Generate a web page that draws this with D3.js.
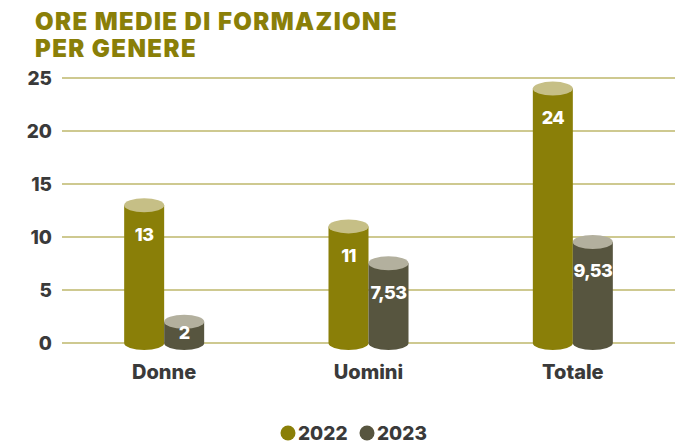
<!DOCTYPE html>
<html>
<head>
<meta charset="utf-8">
<script src="https://cdn.jsdelivr.net/npm/d3@7"></script>
<style>
  body { margin: 0; background: #fff; }
  text { font-family: Inter, "Open Sans", sans-serif; }
</style>
</head>
<body>
<svg id="chart" width="690" height="445"></svg>
<script>
// Ore medie di formazione per genere

const categories = ['Donne', 'Uomini', 'Totale'];
const years = ['2022', '2023'];
const values2022 = [13, 11, 24];
const values2023 = [2, 7.53, 9.53];
const yTicks = [0, 5, 10, 15, 20, 25];
const titleLines = ['ORE MEDIE DI FORMAZIONE', 'PER GENERE'];

const bodyColor = { '2022': '#8a7f08', '2023': '#57553f' };
const topColor = { '2022': '#c6bf86', '2023': '#b3b09e' };

const svg = d3.select('#chart');

// title, two lines
svg.append('g').selectAll('text')
  .data(titleLines)
  .join('text')
    .attr('x', 35)
    .attr('y', (d, i) => 30 + i * 27)
    .attr('fill', '#8a7f08')
    .attr('font-size', 24)
    .attr('font-weight', 900)
    .attr('letter-spacing', 1.4)
    .text(d => d);

const x = d3.scaleBand()
  .domain(categories)
  .range([62, 675]);

const y = d3.scaleLinear()
  .domain([0, 25])
  .range([343, 78]);

// gridlines + tick labels
const axis = svg.append('g');
axis.selectAll('line')
  .data(yTicks)
  .join('line')
    .attr('x1', 62).attr('x2', 675)
    .attr('y1', d => y(d)).attr('y2', d => y(d))
    .attr('stroke', '#9d9423')
    .attr('stroke-width', 1.2);

axis.selectAll('text')
  .data(yTicks)
  .join('text')
    .attr('x', 52)
    .attr('y', d => y(d))
    .attr('dy', '0.36em')
    .attr('text-anchor', 'end')
    .attr('font-size', 19)
    .attr('font-weight', 800)
    .attr('fill', '#3a3a3a')
    .text(d => d);

// bars as cylinders
const xs = d3.scaleBand()
  .domain(years)
  .range([0, 80]);

const rows = categories.flatMap((c, i) => [
  { cat: c, year: '2022', v: values2022[i] },
  { cat: c, year: '2023', v: values2023[i] }
]);

const fmt = v => String(v).replace('.', ',');
const ry = 7;
const off = (x.bandwidth() - 80) / 2;

const bars = svg.append('g').selectAll('g')
  .data(rows)
  .join('g')
    .attr('transform', d => `translate(${x(d.cat) + off + xs(d.year)},0)`);

bars.append('path')
  .attr('fill', d => bodyColor[d.year])
  .attr('d', d => {
    const w = xs.bandwidth(), rx = w / 2;
    const t = y(d.v), b = y(0);
    return `M0,${t} L0,${b} A${rx},${ry} 0 0 0 ${w},${b} L${w},${t} Z`;
  });

bars.append('ellipse')
  .attr('cx', xs.bandwidth() / 2)
  .attr('cy', d => y(d.v))
  .attr('rx', xs.bandwidth() / 2)
  .attr('ry', ry)
  .attr('fill', d => topColor[d.year]);

bars.append('text')
  .attr('x', xs.bandwidth() / 2)
  .attr('y', d => Math.min(y(d.v) + 29, y(0) - 10))
  .attr('dy', '0.36em')
  .attr('text-anchor', 'middle')
  .attr('font-size', 18)
  .attr('font-weight', 800)
  .attr('letter-spacing', -0.6)
  .attr('fill', '#fff')
  .text(d => fmt(d.v));

// category labels
svg.append('g').selectAll('text')
  .data(categories)
  .join('text')
    .attr('x', d => x(d) + x.bandwidth() / 2)
    .attr('y', 372)
    .attr('dy', '0.36em')
    .attr('text-anchor', 'middle')
    .attr('font-size', 20)
    .attr('font-weight', 800)
    .attr('fill', '#3a3a3a')
    .text(d => d);

// legend
const legend = svg.append('g').selectAll('g')
  .data(years)
  .join('g')
    .attr('transform', (d, i) => `translate(${288 + i * 79},433)`);

legend.append('circle')
  .attr('r', 7.5)
  .attr('fill', d => bodyColor[d]);

legend.append('text')
  .attr('x', 10)
  .attr('dy', '0.36em')
  .attr('font-size', 19)
  .attr('font-weight', 800)
  .attr('fill', '#3a3a3a')
  .text(d => d);
</script>
</body>
</html>
